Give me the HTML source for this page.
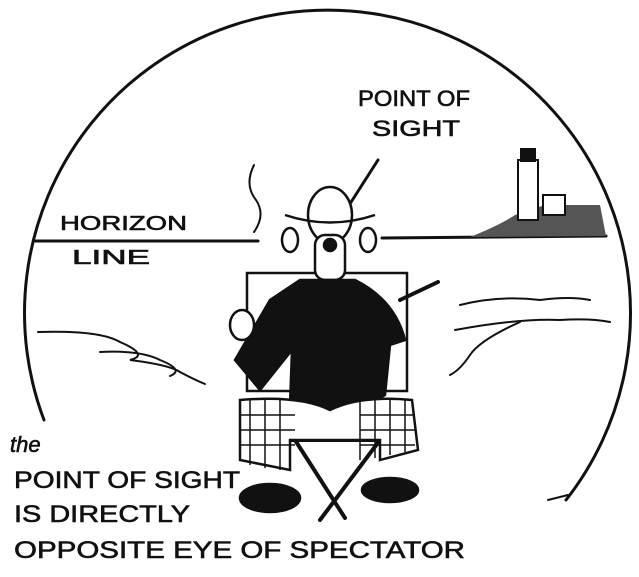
<!DOCTYPE html>
<html><head><meta charset="utf-8"><style>
html,body{margin:0;padding:0;background:#fff;}
svg{display:block}
text{font-family:"Liberation Sans",sans-serif;fill:#111;stroke:#111;stroke-width:0.6}
</style></head><body>
<svg width="639" height="577" viewBox="0 0 639 577" xmlns="http://www.w3.org/2000/svg">
<g fill="none" stroke="#111" stroke-width="3" stroke-linecap="round">
<path d="M44 420 A303 303 0 1 1 566 500"/>
<path d="M35 241 L258 241 M382 238 L606 236"/>
<path d="M378 160 L346 210"/>
<path d="M254 165 Q244 185 256 200 Q266 215 254 232" stroke-width="2"/>
<path d="M38 332 Q100 330 120 342 Q150 355 130 360 Q170 365 180 372 Q195 380 205 384" stroke-width="2"/>
<path d="M100 352 Q140 350 160 360 Q185 370 170 376" stroke-width="2"/>
<path d="M460 305 Q500 295 540 300 Q570 296 590 300" stroke-width="2"/>
<path d="M455 330 Q520 318 560 320 Q590 318 610 322" stroke-width="2"/>
<path d="M520 322 Q480 340 470 355 Q460 370 450 375" stroke-width="2"/>
<rect x="247" y="273" width="160" height="118" stroke-width="2.5"/>
<path d="M400 300 L438 282" stroke-width="4"/>
<path d="M295 440 L345 518 M380 440 L320 520 M290 440 L385 440" stroke-width="4"/>
<path d="M548 500 L568 495" stroke-width="2"/>
</g>
<g fill="#111">
<path d="M470 237 Q500 225 515 215 L545 205 L600 205 L606 236 Z" fill="#555"/>
<rect x="518" y="160" width="20" height="60" fill="#fff" stroke="#111" stroke-width="2"/>
<rect x="520" y="148" width="16" height="14"/>
<rect x="543" y="195" width="22" height="20" fill="#fff" stroke="#111" stroke-width="2"/>
</g>
<g stroke="#111" stroke-width="2.5">
<ellipse cx="330" cy="215" rx="22" ry="28" fill="#fff"/>
<path d="M285 215 Q330 230 375 215" fill="none"/>
<ellipse cx="290" cy="240" rx="8" ry="12" fill="#fff"/>
<ellipse cx="368" cy="240" rx="8" ry="12" fill="#fff"/>
<rect x="315" y="235" width="30" height="45" rx="10" fill="#fff"/>
<circle cx="330" cy="245" r="6" fill="#111"/>
<path d="M300 280 L355 280 Q395 300 405 340 L390 345 L385 395 Q350 415 290 405 L292 350 L260 390 L235 360 L270 300 Z" fill="#111"/>
<ellipse cx="242" cy="325" rx="12" ry="15" fill="#fff"/>
<path d="M240 400 Q300 395 330 410 Q360 395 412 400 L418 450 L380 460 L380 440 L290 440 L290 470 L240 460 Z" fill="#fff"/>
<g stroke-width="1.5" fill="none">
<path d="M250 400 V465 M265 400 V468 M280 400 V470 M360 400 V460 M375 400 V458 M390 400 V455 M405 400 V452 M240 415 H295 M240 430 H295 M240 445 H295 M360 415 H415 M360 430 H415 M360 445 H415"/>
</g>
<ellipse cx="270" cy="498" rx="30" ry="14" fill="#111"/>
<ellipse cx="390" cy="490" rx="28" ry="12" fill="#111"/>
</g>
<text x="358" y="106" font-size="22" textLength="112" lengthAdjust="spacingAndGlyphs">POINT OF</text>
<text x="372" y="136" font-size="22" textLength="88" lengthAdjust="spacingAndGlyphs">SIGHT</text>
<text x="60" y="230" font-size="20" textLength="127" lengthAdjust="spacingAndGlyphs">HORIZON</text>
<text x="72" y="264" font-size="20" textLength="78" lengthAdjust="spacingAndGlyphs">LINE</text>
<text x="10" y="452" font-size="22" font-style="italic" font-family="Liberation Serif">the</text>
<text x="14" y="488" font-size="24" textLength="226" lengthAdjust="spacingAndGlyphs">POINT OF SIGHT</text>
<text x="14" y="522" font-size="24" textLength="176" lengthAdjust="spacingAndGlyphs">IS DIRECTLY</text>
<text x="14" y="558" font-size="24" textLength="451" lengthAdjust="spacingAndGlyphs">OPPOSITE EYE OF SPECTATOR</text>
</svg>
</body></html>
